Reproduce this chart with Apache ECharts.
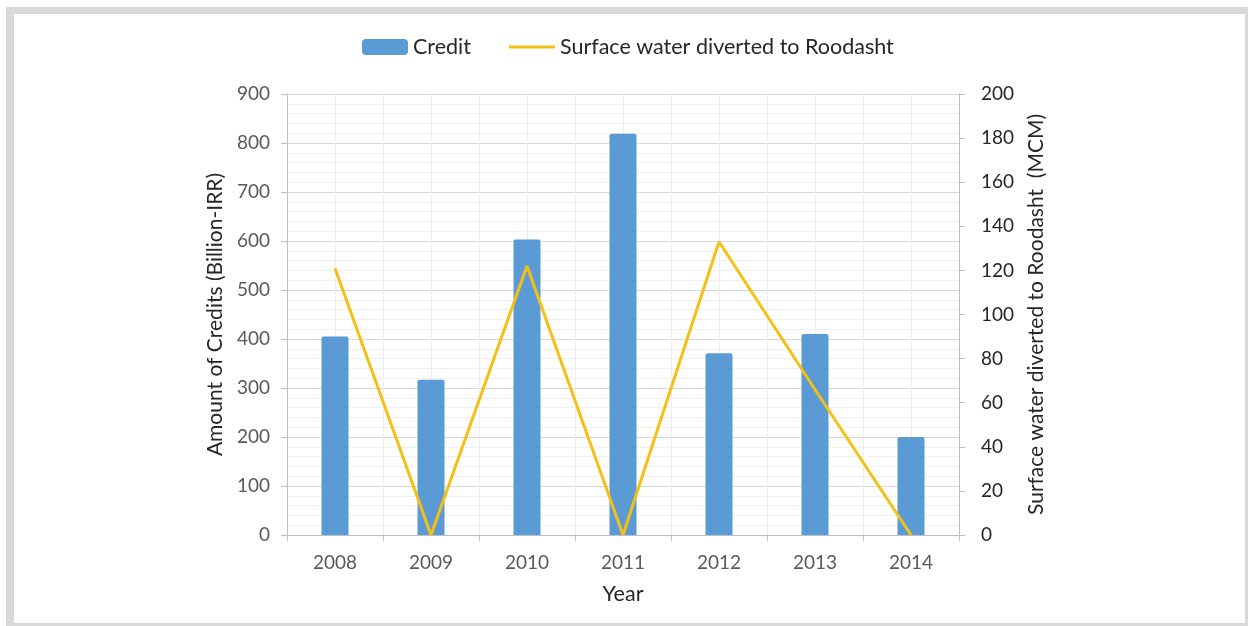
<!DOCTYPE html>
<html>
<head>
<meta charset="utf-8">
<script src="https://cdn.jsdelivr.net/npm/echarts@6/dist/echarts.min.js"></script>
<style>
  html, body { margin: 0; padding: 0; background: #fff; }
  #chart { width: 1248px; height: 626px; }
</style>
</head>
<body>
<div id="chart"></div>
<script>
// Years on the category axis
const years = ['2008', '2009', '2010', '2011', '2012', '2013', '2014'];
// Credits granted, billion IRR (left axis)
const credit = [405, 317, 603, 819, 371, 410, 200];
// Surface water diverted to Roodasht, MCM (right axis)
const surfaceWater = [121, 0, 122, 0, 133, 66, 0];

const FONT = 'Lato';
const chart = echarts.init(document.getElementById('chart'), null, { renderer: 'canvas' });

chart.setOption({
  animation: false,
  textStyle: { fontFamily: FONT },
  graphic: [
    { type: 'rect', z: -10, shape: { x: 6, y: 7, width: 1242, height: 619 }, style: { fill: '#D9D9D9' }, silent: true },
    { type: 'rect', z: -9, shape: { x: 14, y: 14, width: 1231, height: 609 }, style: { fill: '#FFFFFF' }, silent: true }
  ],
  legend: {
    top: 31,
    left: 357,
    itemWidth: 46,
    itemHeight: 16,
    itemGap: 38,
    textStyle: { fontFamily: FONT, fontSize: 21.5, color: '#262626' },
    data: [
      { name: 'Credit', icon: 'roundRect' },
      { name: 'Surface water diverted to Roodasht', icon: 'path://M0,0 L45,0 L45,3 L0,3 Z' }
    ]
  },
  grid: { left: 287, right: 289, top: 94, bottom: 91, containLabel: false },
  xAxis: [
    {
      type: 'category',
      data: years,
      boundaryGap: true,
      name: 'Year',
      nameLocation: 'middle',
      nameGap: 48,
      nameTextStyle: { fontFamily: FONT, fontSize: 21.5, color: '#262626' },
      axisLine: { show: true, lineStyle: { color: '#BFBFBF', width: 1 } },
      axisTick: { show: true, length: 6, lineStyle: { color: '#BFBFBF' } },
      axisLabel: { fontFamily: FONT, fontSize: 19, color: '#595959', margin: 18 },
      splitLine: { show: true, lineStyle: { color: '#E3E3E3', width: 1 } }
    },
    {
      // half-category guide lines through each bar
      type: 'value',
      min: 0,
      max: 7,
      interval: 0.5,
      show: true,
      position: 'bottom',
      axisLine: { show: false },
      axisTick: { show: false },
      axisLabel: { show: false },
      splitLine: { show: true, lineStyle: { color: '#EDEDED', width: 1 } }
    }
  ],
  yAxis: [
    {
      type: 'value',
      min: 0,
      max: 900,
      interval: 100,
      position: 'left',
      name: 'Amount of Credits (Billion-IRR)',
      nameLocation: 'middle',
      nameRotate: 90,
      nameGap: 58,
      nameTextStyle: { fontFamily: FONT, fontSize: 21, color: '#262626' },
      axisLine: { show: true, lineStyle: { color: '#BFBFBF', width: 1 } },
      axisTick: { show: true, length: 6, lineStyle: { color: '#BFBFBF' } },
      axisLabel: { fontFamily: FONT, fontSize: 19, color: '#595959', margin: 17 },
      splitLine: { show: true, lineStyle: { color: '#D9D9D9', width: 1 } },
      minorTick: { show: false, splitNumber: 5 },
      minorSplitLine: { show: true, lineStyle: { color: '#EFEFEF', width: 1 } }
    },
    {
      type: 'value',
      min: 0,
      max: 200,
      interval: 20,
      position: 'right',
      name: 'Surface water diverted to Roodasht  (MCM)',
      nameLocation: 'middle',
      nameRotate: 90,
      nameGap: 67,
      nameTextStyle: { fontFamily: FONT, fontSize: 21, color: '#262626' },
      axisLine: { show: true, lineStyle: { color: '#BFBFBF', width: 1 } },
      axisTick: { show: true, length: 6, lineStyle: { color: '#BFBFBF' } },
      axisLabel: { fontFamily: FONT, fontSize: 19, color: '#262626', margin: 22 },
      splitLine: { show: false }
    }
  ],
  series: [
    {
      name: 'Credit',
      type: 'bar',
      xAxisIndex: 0,
      yAxisIndex: 0,
      data: credit,
      barWidth: 27,
      itemStyle: { color: '#5B9BD5', borderRadius: [2, 2, 0, 0] },
      z: 2
    },
    {
      name: 'Surface water diverted to Roodasht',
      type: 'line',
      xAxisIndex: 0,
      yAxisIndex: 1,
      data: surfaceWater,
      symbol: 'none',
      lineStyle: { color: '#F5C014', width: 3 },
      itemStyle: { color: '#F5C014' },
      z: 3
    }
  ]
});
</script>
</body>
</html>
